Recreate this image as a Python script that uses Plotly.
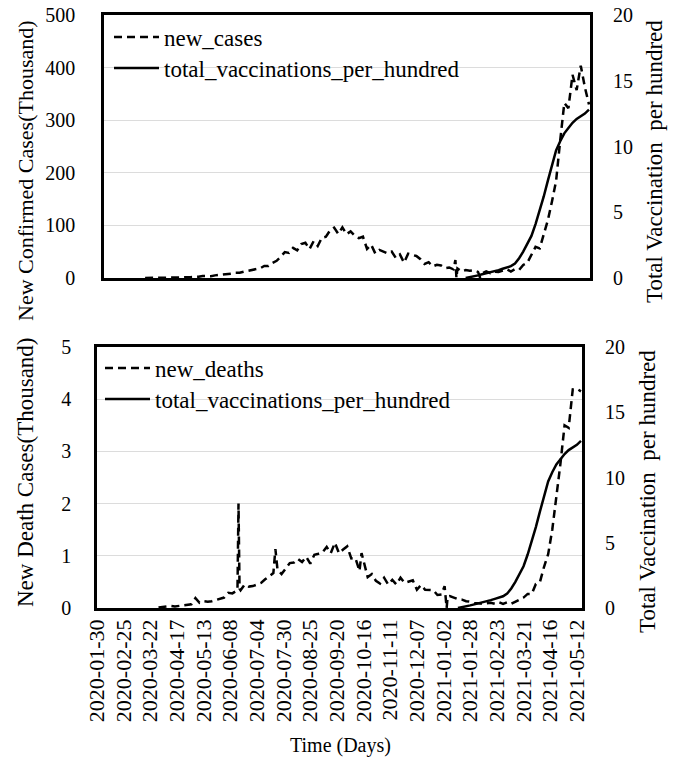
import pandas as pd
import plotly.graph_objects as go

W, H = 673, 769

# ---------------- data ----------------
grid_start = "2020-01-30"
# new cases (thousand) every 4 days from 2020-01-30 (None = not yet reported)
new_cases = [None, None, None, None, None, None, None, None, None, None,
             0.01, 0.02, 0.03, 0.09, 0.08, 0.2,
             0.5, 0.6, 0.9, 1.0, 1.3, 1.6, 1.5, 2.3, 3.9, 3.3, 3.5, 5.0, 5.6, 6.5,
             7.5, 8.2, 9.9, 9.9, 11.9, 13.6, 14.8, 17.3, 18.5, 22.8, 22.8, 28.6,
             32.7, 40.4, 49.3, 47.7, 57.1, 52.5, 64.4, 66.9, 55.0, 69.9, 60.9,
             76.5, 78.4, 90.6, 95.7, 83.8, 96.4, 83.3, 88.6, 80.5, 75.8, 78.5,
             55.3, 63.4, 46.8, 53.4, 49.9, 46.9, 50.2, 38.1, 44.9, 29.2, 46.2,
             44.4, 41.8, 35.6, 26.6, 30.0, 22.1, 25.2, 23.9, 18.7, 20.0, 16.5,
             18.1, 12.6, 15.1, 13.8, 14.8, 11.7, 8.6, 12.4, 9.1, 12.2, 11.6,
             14.3, 16.7, 12.3, 16.8, 15.4, 24.9, 28.9, 43.8, 59.1, 56.2, 81.5,
             110.0, 145.4, 184.4, 261.5, 332.7, 323.0, 386.5, 357.2, 403.7,
             362.7, 330.0]
case_extra_dates = ["2021-01-06", "2021-01-07", "2021-01-30"]
case_extra_values = [34.0, 0.0, 1.0]

# new deaths (thousand) every 4 days from 2020-01-30 (None = not yet reported)
new_deaths = [None, None, None, None, None, None, None, None, None, None,
              None, None, None, None, None, 0.01,
              0.02, 0.03, 0.04, 0.03, 0.04, 0.05, 0.05, 0.07, 0.19, 0.1, 0.13,
              0.12, 0.13, 0.15, 0.17, 0.2, 0.29, 0.28, 0.33, 0.34, 0.45, 0.41,
              0.42, 0.45, 0.48, 0.55, 0.61, 0.67, 0.74, 0.65, 0.76, 0.86, 0.87,
              0.94, 0.88, 0.98, 0.85, 1.02, 1.04, 1.07, 1.17, 1.05, 1.25, 1.05,
              1.12, 1.18, 0.95, 0.96, 0.71, 0.9, 0.59, 0.65, 0.52, 0.47, 0.58,
              0.45, 0.54, 0.45, 0.58, 0.48, 0.5, 0.53, 0.35, 0.44, 0.35, 0.34,
              0.34, 0.25, 0.26, 0.2, 0.23, 0.2, 0.17, 0.16, 0.13, 0.12, 0.09,
              0.09, 0.08, 0.09, 0.1, 0.08, 0.11, 0.08, 0.11, 0.08, 0.12, 0.17,
              0.2, 0.27, 0.27, 0.46, 0.5, 0.79, 1.03, 1.5, 2.1, 2.77, 3.5,
              3.45, 4.19, 4.2, 4.15]
death_extra_dates = ["2020-06-15", "2020-06-16", "2020-06-17", "2020-07-22",
                     "2020-10-14", "2021-01-03", "2021-01-05", "2021-01-06"]
death_extra_values = [0.35, 2.0, 0.37, 1.13, 1.05, 0.42, 0.0, 0.22]

# total vaccinations per hundred, every 4 days from 2021-01-16
vacc_start = "2021-01-16"
total_vacc = [0.0, 0.05, 0.12, 0.2, 0.28, 0.35, 0.42, 0.5, 0.6, 0.7, 0.8,
              0.9, 1.1, 1.5, 2.0, 2.6, 3.2, 4.1, 5.1, 6.2, 7.4, 8.6, 9.7,
              10.4, 11.0, 11.4, 11.8, 12.1, 12.3, 12.5, 12.8]

tick_dates = ["2020-01-30", "2020-02-25", "2020-03-22", "2020-04-17",
              "2020-05-13", "2020-06-08", "2020-07-04", "2020-07-30",
              "2020-08-25", "2020-09-20", "2020-10-16", "2020-11-11",
              "2020-12-07", "2021-01-02", "2021-01-28", "2021-02-23",
              "2021-03-21", "2021-04-16", "2021-05-12"]
x_range = ["2020-01-30", "2021-05-17"]


def series(values, start, extra_dates=(), extra_values=()):
    idx = pd.date_range(start, periods=len(values), freq="4D")
    s = pd.Series(values, index=idx, dtype="float64")
    if extra_dates:
        e = pd.Series(list(extra_values), index=pd.to_datetime(list(extra_dates)))
        s = pd.concat([s, e]).sort_index()
    return s


cases = series(new_cases, grid_start, case_extra_dates, case_extra_values)
deaths = series(new_deaths, grid_start, death_extra_dates, death_extra_values)
vacc = series(total_vacc, vacc_start)


def yvals(s):
    return [None if pd.isna(v) else float(v) for v in s.values]


FONT = "Liberation Serif"
DASH = "8px,5px"
LW = 2.5

fig = go.Figure()
fig.add_trace(go.Scatter(x=cases.index, y=yvals(cases), mode="lines", name="new_cases",
                         line=dict(color="black", width=LW, dash=DASH),
                         xaxis="x", yaxis="y", legend="legend", showlegend=True))
fig.add_trace(go.Scatter(x=vacc.index, y=yvals(vacc), mode="lines",
                         name="total_vaccinations_per_hundred",
                         line=dict(color="black", width=LW),
                         xaxis="x", yaxis="y2", legend="legend2", showlegend=True))
fig.add_trace(go.Scatter(x=deaths.index, y=yvals(deaths), mode="lines", name="new_deaths",
                         line=dict(color="black", width=LW, dash=DASH),
                         xaxis="x2", yaxis="y3", legend="legend3", showlegend=True))
fig.add_trace(go.Scatter(x=vacc.index, y=yvals(vacc), mode="lines",
                         name="total_vaccinations_per_hundred",
                         line=dict(color="black", width=LW),
                         xaxis="x2", yaxis="y4", legend="legend4", showlegend=True))


def px_x(p):
    return p / W


def px_y(p):
    return 1 - p / H


top_dom_x = [px_x(104), px_x(590)]
top_dom_y = [px_y(278), px_y(15)]
bot_dom_x = [px_x(97), px_x(582)]
bot_dom_y = [px_y(608), px_y(347)]

frame = dict(showline=True, linecolor="black", linewidth=LW, mirror=True, automargin=False)
tickfont = dict(family=FONT, size=20, color="black")

fig.update_layout(
    width=W, height=H, margin=dict(l=0, r=0, t=0, b=0, autoexpand=False),
    paper_bgcolor="white", plot_bgcolor="white", showlegend=True,
    font=dict(family=FONT, color="black"),
    xaxis=dict(domain=top_dom_x, type="date", range=x_range, showgrid=False,
               showticklabels=False, ticks="", anchor="y", **frame),
    yaxis=dict(domain=top_dom_y, range=[0, 500], tickvals=[0, 100, 200, 300, 400, 500],
               showgrid=True, gridcolor="#dcdcdc", gridwidth=1, zeroline=False,
               ticks="", ticklabelstandoff=22, tickfont=tickfont, anchor="x", **frame),
    yaxis2=dict(overlaying="y", side="right", range=[0, 20], tickvals=[0, 5, 10, 15, 20],
                showgrid=False, zeroline=False, ticks="", ticklabelstandoff=22,
                tickfont=tickfont, anchor="x", automargin=False),
    xaxis2=dict(domain=bot_dom_x, type="date", range=x_range, showgrid=False,
                tickvals=tick_dates, ticktext=tick_dates, tickangle=-90,
                tickfont=dict(family=FONT, size=22, color="black"), ticks="",
                anchor="y3", **frame),
    yaxis3=dict(domain=bot_dom_y, range=[0, 5], tickvals=[0, 1, 2, 3, 4, 5],
                showgrid=True, gridcolor="#dcdcdc", gridwidth=1, zeroline=False,
                ticks="", ticklabelstandoff=19, tickfont=tickfont, anchor="x2", **frame),
    yaxis4=dict(overlaying="y3", side="right", range=[0, 20], tickvals=[0, 5, 10, 15, 20],
                showgrid=False, zeroline=False, ticks="", ticklabelstandoff=22,
                tickfont=tickfont, anchor="x2", automargin=False),
)

leg_common = dict(bgcolor="rgba(0,0,0,0)", borderwidth=0, xanchor="left",
                  yanchor="middle", font=dict(family=FONT, size=23, color="black"),
                  itemwidth=45)
fig.update_layout(
    legend=dict(x=px_x(109), y=px_y(37), **leg_common),
    legend2=dict(x=px_x(109), y=px_y(68), **leg_common),
    legend3=dict(x=px_x(100), y=px_y(368), **leg_common),
    legend4=dict(x=px_x(100), y=px_y(399), **leg_common),
)

annotations = [
    dict(text="New Confirmed Cases(Thousand)", x=px_x(25), y=px_y(171), textangle=-90, size=22),
    dict(text="New Death Cases(Thousand)", x=px_x(25), y=px_y(472), textangle=-90, size=23),
    dict(text="Total Vaccination  per hundred", x=px_x(655), y=px_y(162), textangle=-90, size=23),
    dict(text="Total Vaccination  per hundred", x=px_x(647), y=px_y(492), textangle=-90, size=23),
    dict(text="Time (Days)", x=px_x(340), y=px_y(745), textangle=0, size=20),
]
for a in annotations:
    size = a.pop("size")
    fig.add_annotation(xref="paper", yref="paper", showarrow=False,
                       xanchor="center", yanchor="middle",
                       font=dict(family=FONT, size=size, color="black"), **a)

fig.write_html("out.html")
